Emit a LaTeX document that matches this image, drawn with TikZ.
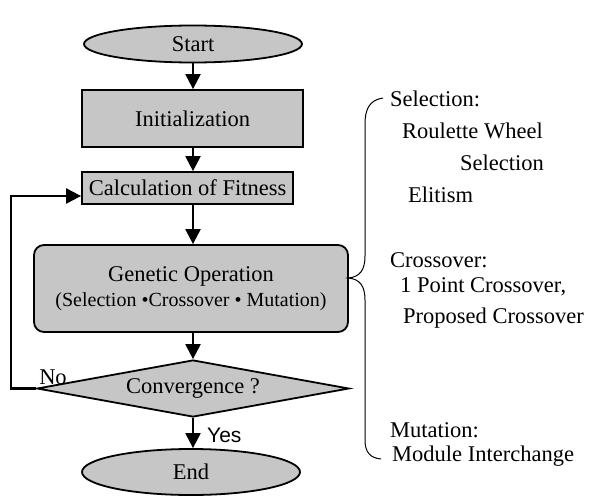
\documentclass[tikz,border=0pt]{standalone}
\usepackage{fontspec}
\setmainfont{Liberation Serif}
\newfontfamily\yesfont{Liberation Sans}
\usetikzlibrary{shapes.geometric,arrows.meta}
\begin{document}
\begin{tikzpicture}[x=1pt,y=-1pt,
  every node/.style={font=\fontsize{22.5}{24}\selectfont},
  gbox/.style={draw=black, line width=1.8pt, fill=gray!45},
  term/.style={gbox, ellipse, inner sep=0pt},
  proc/.style={gbox, rectangle, inner sep=0pt},
  dec/.style={gbox, diamond, aspect=5.47, inner sep=0pt},
  arr/.style={line width=2.2pt, -{Triangle[length=15pt,width=15pt]}},
  lab/.style={anchor=west, inner sep=0pt},
  brace/.style={line width=1pt}]
\useasboundingbox (0,0) rectangle (600,498);

\node[term, minimum width=218pt, minimum height=37pt] (start) at (193,44) {Start};
\node[proc, minimum width=221pt, minimum height=57pt] (init) at (192.5,118.5) {Initialization};
\node[proc, minimum width=211pt, minimum height=32pt] (calc) at (187.5,188) {Calculation of Fitness};
\node[proc, rounded corners=10pt, minimum width=314pt, minimum height=87pt, align=center] (gen) at (191,288.5)
  {Genetic Operation\\[1pt]{\fontsize{20}{22}\selectfont(Selection \textbullet Crossover \textbullet\ Mutation)}};
\node[dec, minimum width=312pt, minimum height=57pt] (conv) at (193,388.5) {Convergence ?};
\node[term, minimum width=218pt, minimum height=46pt] (end) at (191,472) {End};

\draw[arr] (start.south) -- (start.south |- init.north);
\draw[arr] (init.south -| start) -- (calc.north -| start);
\draw[arr] (calc.south -| start) -- (gen.north -| start);
\draw[arr] (gen.south -| start) -- (conv.north);
\draw[arr] (conv.south) -- (end.north -| conv.south);
\draw[arr] (conv.west) -- ++(-25,0) |- ([yshift=-8pt]calc.west);

\node[inner sep=0pt] (no) at (53,377) {No};
\node[lab, font=\yesfont\fontsize{21}{23}\selectfont] (yes) at (207,435) {Yes};

\node[lab] (selh) at (390,99) {Selection:};
\node[lab] (rw) at (402,131) {Roulette Wheel};
\node[lab] (rws) at (460,163) {Selection};
\node[lab] (eli) at (408,195) {Elitism};
\node[lab] (croh) at (390,260) {Crossover:};
\node[lab] (p1) at (400,287) {1 Point Crossover,};
\node[lab] (pc) at (403,318) {Proposed Crossover};
\node[lab] (muth) at (390,430) {Mutation:};
\node[lab] (mi) at (392,456) {Module Interchange};

\draw[brace] (383,98) .. controls (369,100) and (365,110) .. (365,124) -- (365,256)
  .. controls (365,270) and (360,277) .. (348,278)
  .. controls (360,279) and (365,286) .. (365,300) -- (365,440)
  .. controls (365,452) and (370,458) .. (381,459);
\end{tikzpicture}
\end{document}
